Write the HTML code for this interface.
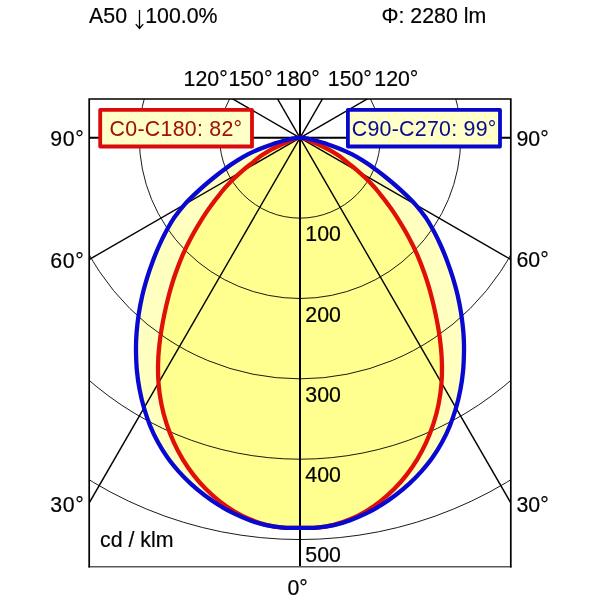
<!DOCTYPE html>
<html><head><meta charset="utf-8"><title>Polar</title>
<style>
html,body{margin:0;padding:0;background:#fff;}
svg{display:block}
text{font-family:"Liberation Sans",sans-serif;font-size:21.33px}
</style></head><body>
<svg width="600" height="600" viewBox="0 0 600 600">
<rect width="600" height="600" fill="#fff"/>
<defs><clipPath id="c"><rect x="89.2" y="99.0" width="421.6" height="467.6"/></clipPath></defs>
<g clip-path="url(#c)">
<path d="M300.0 137.8C299.5 137.8 297.9 137.8 297.0 137.9C296.1 138.0 295.3 138.1 294.3 138.3C293.3 138.5 292.5 138.6 290.9 139.0C289.3 139.4 287.3 139.8 284.6 140.5C282.0 141.2 278.8 142.1 275.1 143.3C271.4 144.6 266.7 146.1 262.2 147.9C257.8 149.7 252.6 151.9 248.3 154.1C244.0 156.3 240.5 158.4 236.7 160.9C232.8 163.3 229.2 165.8 225.3 168.8C221.3 171.7 217.1 174.9 212.7 178.5C208.3 182.1 203.5 186.1 198.9 190.4C194.2 194.7 188.9 199.7 184.7 204.4C180.6 209.0 177.1 213.6 173.9 218.1C170.8 222.7 168.4 227.1 165.9 231.7C163.4 236.3 161.2 241.0 159.0 246.0C156.8 250.9 154.7 256.1 152.7 261.4C150.7 266.7 148.8 272.2 147.1 277.9C145.4 283.6 143.7 289.5 142.3 295.5C140.9 301.5 139.8 307.5 138.8 313.7C137.9 319.9 137.1 326.2 136.6 332.5C136.1 338.8 135.9 345.2 136.0 351.5C136.1 357.9 136.3 364.3 136.9 370.7C137.5 377.0 138.4 383.3 139.6 389.6C140.8 395.8 142.2 402.0 144.0 408.0C145.8 414.0 147.8 420.0 150.1 425.7C152.4 431.4 155.1 437.0 158.0 442.3C160.9 447.6 164.1 452.8 167.5 457.6C170.9 462.5 174.7 467.0 178.6 471.4C182.5 475.8 186.6 479.9 190.9 483.8C195.2 487.7 199.7 491.5 204.3 495.0C208.9 498.5 213.7 501.9 218.6 505.0C223.5 508.1 228.6 510.9 233.8 513.4C238.9 515.9 244.3 518.2 249.7 520.2C255.0 522.2 260.6 523.9 266.1 525.1C271.7 526.4 277.3 527.2 283.0 527.6C288.6 528.1 294.3 527.8 300.0 527.8C305.7 527.8 311.4 528.1 317.0 527.6C322.7 527.2 328.3 526.4 333.9 525.1C339.4 523.9 345.0 522.2 350.3 520.2C355.7 518.2 361.1 515.9 366.2 513.4C371.4 510.9 376.5 508.1 381.4 505.0C386.3 501.9 391.1 498.5 395.7 495.0C400.3 491.5 404.8 487.7 409.1 483.8C413.4 479.9 417.5 475.8 421.4 471.4C425.3 467.0 429.1 462.5 432.5 457.6C435.9 452.8 439.1 447.6 442.0 442.3C444.9 437.0 447.6 431.4 449.9 425.7C452.2 420.0 454.2 414.0 456.0 408.0C457.8 402.0 459.2 395.8 460.4 389.6C461.6 383.3 462.5 377.0 463.1 370.7C463.7 364.3 463.9 357.9 464.0 351.5C464.1 345.2 463.9 338.8 463.4 332.5C462.9 326.2 462.1 319.9 461.2 313.7C460.2 307.5 459.1 301.5 457.7 295.5C456.3 289.5 454.6 283.6 452.9 277.9C451.2 272.2 449.3 266.7 447.3 261.4C445.3 256.1 443.2 250.9 441.0 246.0C438.8 241.0 436.6 236.3 434.1 231.7C431.6 227.1 429.2 222.7 426.1 218.1C422.9 213.6 419.4 209.0 415.3 204.4C411.1 199.7 405.8 194.7 401.1 190.4C396.5 186.1 391.7 182.1 387.3 178.5C382.9 174.9 378.7 171.7 374.7 168.8C370.8 165.8 367.2 163.3 363.3 160.9C359.5 158.4 356.0 156.3 351.7 154.1C347.4 151.9 342.2 149.7 337.8 147.9C333.3 146.1 328.6 144.6 324.9 143.3C321.2 142.1 318.0 141.2 315.4 140.5C312.7 139.8 310.7 139.4 309.1 139.0C307.5 138.6 306.7 138.5 305.7 138.3C304.7 138.1 303.9 138.0 303.0 137.9C302.1 137.8 300.5 137.8 300.0 137.8Z" fill="#ffff00" fill-opacity="0.25"/>
<path d="M300.0 137.8C299.9 137.8 299.5 137.8 299.3 137.8C299.1 137.9 298.8 137.9 298.5 137.9C298.2 138.0 297.8 138.1 297.3 138.2C296.9 138.3 296.4 138.4 295.9 138.5C295.3 138.7 294.7 138.9 294.0 139.1C293.3 139.4 292.6 139.7 291.7 140.0C290.8 140.4 290.4 140.6 288.7 141.3C287.1 142.1 285.1 142.9 282.0 144.4C278.8 145.9 273.3 148.4 269.8 150.3C266.2 152.3 263.5 154.1 260.7 156.1C257.9 158.1 256.2 159.7 253.0 162.3C249.7 164.9 245.0 168.4 241.2 171.8C237.4 175.1 233.6 178.7 230.1 182.3C226.6 186.0 223.3 189.7 220.1 193.8C216.8 197.8 213.6 202.0 210.4 206.6C207.1 211.1 203.9 216.0 200.7 221.1C197.5 226.3 194.2 231.8 191.2 237.5C188.1 243.2 185.2 249.2 182.5 255.3C179.9 261.3 177.6 267.4 175.4 273.8C173.1 280.2 171.2 286.7 169.3 293.5C167.5 300.3 165.8 307.3 164.3 314.6C162.8 321.9 161.3 329.7 160.3 337.3C159.3 345.0 158.4 352.9 158.2 360.5C157.9 368.0 158.0 375.6 158.5 382.9C159.0 390.2 160.0 397.2 161.4 404.1C162.7 410.9 164.5 417.5 166.6 423.9C168.7 430.3 171.1 436.5 173.8 442.4C176.5 448.3 179.6 454.1 182.9 459.6C186.2 465.0 189.8 470.2 193.6 475.1C197.5 480.1 201.6 484.8 205.9 489.1C210.2 493.4 214.7 497.5 219.4 501.2C224.2 504.9 229.1 508.3 234.1 511.3C239.2 514.4 244.4 517.1 249.8 519.3C255.1 521.6 260.6 523.4 266.1 524.8C271.7 526.2 277.3 527.2 283.0 527.7C288.6 528.2 294.3 527.8 300.0 527.8C305.7 527.8 311.4 528.2 317.0 527.7C322.7 527.2 328.3 526.2 333.9 524.8C339.4 523.4 344.9 521.6 350.2 519.3C355.6 517.1 360.8 514.4 365.9 511.3C370.9 508.3 375.8 504.9 380.6 501.2C385.3 497.5 389.8 493.4 394.1 489.1C398.4 484.8 402.5 480.1 406.4 475.1C410.2 470.2 413.8 465.0 417.1 459.6C420.4 454.1 423.5 448.3 426.2 442.4C428.9 436.5 431.3 430.3 433.4 423.9C435.5 417.5 437.3 410.9 438.6 404.1C440.0 397.2 441.0 390.2 441.5 382.9C442.0 375.6 442.1 368.0 441.8 360.5C441.6 352.9 440.7 345.0 439.7 337.3C438.7 329.7 437.2 321.9 435.7 314.6C434.2 307.3 432.5 300.3 430.7 293.5C428.8 286.7 426.9 280.2 424.6 273.8C422.4 267.4 420.1 261.3 417.5 255.3C414.8 249.2 411.9 243.2 408.8 237.5C405.8 231.8 402.5 226.3 399.3 221.1C396.1 216.0 392.9 211.1 389.6 206.6C386.4 202.0 383.2 197.8 379.9 193.8C376.7 189.7 373.4 186.0 369.9 182.3C366.4 178.7 362.6 175.1 358.8 171.8C355.0 168.4 350.3 164.9 347.0 162.3C343.8 159.7 342.1 158.1 339.3 156.1C336.5 154.1 333.8 152.3 330.2 150.3C326.7 148.4 321.2 145.9 318.0 144.4C314.9 142.9 312.9 142.1 311.3 141.3C309.6 140.6 309.2 140.4 308.3 140.0C307.4 139.7 306.7 139.4 306.0 139.1C305.3 138.9 304.7 138.7 304.1 138.5C303.6 138.4 303.1 138.3 302.7 138.2C302.2 138.1 301.8 138.0 301.5 137.9C301.2 137.9 300.9 137.9 300.7 137.8C300.5 137.8 300.1 137.8 300.0 137.8Z" fill="#ffff00" fill-opacity="0.25"/>
<g fill="none" stroke="#000" stroke-width="0.9"><circle cx="300.0" cy="137.8" r="80.35"/><circle cx="300.0" cy="137.8" r="160.70"/><circle cx="300.0" cy="137.8" r="241.05"/><circle cx="300.0" cy="137.8" r="321.40"/><circle cx="300.0" cy="137.8" r="401.75"/></g>
<g stroke="#000" stroke-width="1.4"><line x1="300.0" y1="137.8" x2="-50.0" y2="744.0"/><line x1="300.0" y1="137.8" x2="650.0" y2="744.0"/><line x1="300.0" y1="137.8" x2="-306.2" y2="487.8"/><line x1="300.0" y1="137.8" x2="906.2" y2="487.8"/><line x1="300.0" y1="137.8" x2="-306.2" y2="-212.2"/><line x1="300.0" y1="137.8" x2="906.2" y2="-212.2"/><line x1="300.0" y1="137.8" x2="-50.0" y2="-468.4"/><line x1="300.0" y1="137.8" x2="650.0" y2="-468.4"/></g>
<line x1="300.0" y1="99.0" x2="300.0" y2="566.6" stroke="#000" stroke-width="2"/>
<line x1="89.2" y1="137.8" x2="510.8" y2="137.8" stroke="#000" stroke-width="2"/>
<path d="M300.0 137.8C299.9 137.8 299.5 137.8 299.3 137.8C299.1 137.9 298.8 137.9 298.5 137.9C298.2 138.0 297.8 138.1 297.3 138.2C296.9 138.3 296.4 138.4 295.9 138.5C295.3 138.7 294.7 138.9 294.0 139.1C293.3 139.4 292.6 139.7 291.7 140.0C290.8 140.4 290.4 140.6 288.7 141.3C287.1 142.1 285.1 142.9 282.0 144.4C278.8 145.9 273.3 148.4 269.8 150.3C266.2 152.3 263.5 154.1 260.7 156.1C257.9 158.1 256.2 159.7 253.0 162.3C249.7 164.9 245.0 168.4 241.2 171.8C237.4 175.1 233.6 178.7 230.1 182.3C226.6 186.0 223.3 189.7 220.1 193.8C216.8 197.8 213.6 202.0 210.4 206.6C207.1 211.1 203.9 216.0 200.7 221.1C197.5 226.3 194.2 231.8 191.2 237.5C188.1 243.2 185.2 249.2 182.5 255.3C179.9 261.3 177.6 267.4 175.4 273.8C173.1 280.2 171.2 286.7 169.3 293.5C167.5 300.3 165.8 307.3 164.3 314.6C162.8 321.9 161.3 329.7 160.3 337.3C159.3 345.0 158.4 352.9 158.2 360.5C157.9 368.0 158.0 375.6 158.5 382.9C159.0 390.2 160.0 397.2 161.4 404.1C162.7 410.9 164.5 417.5 166.6 423.9C168.7 430.3 171.1 436.5 173.8 442.4C176.5 448.3 179.6 454.1 182.9 459.6C186.2 465.0 189.8 470.2 193.6 475.1C197.5 480.1 201.6 484.8 205.9 489.1C210.2 493.4 214.7 497.5 219.4 501.2C224.2 504.9 229.1 508.3 234.1 511.3C239.2 514.4 244.4 517.1 249.8 519.3C255.1 521.6 260.6 523.4 266.1 524.8C271.7 526.2 277.3 527.2 283.0 527.7C288.6 528.2 294.3 527.8 300.0 527.8C305.7 527.8 311.4 528.2 317.0 527.7C322.7 527.2 328.3 526.2 333.9 524.8C339.4 523.4 344.9 521.6 350.2 519.3C355.6 517.1 360.8 514.4 365.9 511.3C370.9 508.3 375.8 504.9 380.6 501.2C385.3 497.5 389.8 493.4 394.1 489.1C398.4 484.8 402.5 480.1 406.4 475.1C410.2 470.2 413.8 465.0 417.1 459.6C420.4 454.1 423.5 448.3 426.2 442.4C428.9 436.5 431.3 430.3 433.4 423.9C435.5 417.5 437.3 410.9 438.6 404.1C440.0 397.2 441.0 390.2 441.5 382.9C442.0 375.6 442.1 368.0 441.8 360.5C441.6 352.9 440.7 345.0 439.7 337.3C438.7 329.7 437.2 321.9 435.7 314.6C434.2 307.3 432.5 300.3 430.7 293.5C428.8 286.7 426.9 280.2 424.6 273.8C422.4 267.4 420.1 261.3 417.5 255.3C414.8 249.2 411.9 243.2 408.8 237.5C405.8 231.8 402.5 226.3 399.3 221.1C396.1 216.0 392.9 211.1 389.6 206.6C386.4 202.0 383.2 197.8 379.9 193.8C376.7 189.7 373.4 186.0 369.9 182.3C366.4 178.7 362.6 175.1 358.8 171.8C355.0 168.4 350.3 164.9 347.0 162.3C343.8 159.7 342.1 158.1 339.3 156.1C336.5 154.1 333.8 152.3 330.2 150.3C326.7 148.4 321.2 145.9 318.0 144.4C314.9 142.9 312.9 142.1 311.3 141.3C309.6 140.6 309.2 140.4 308.3 140.0C307.4 139.7 306.7 139.4 306.0 139.1C305.3 138.9 304.7 138.7 304.1 138.5C303.6 138.4 303.1 138.3 302.7 138.2C302.2 138.1 301.8 138.0 301.5 137.9C301.2 137.9 300.9 137.9 300.7 137.8C300.5 137.8 300.1 137.8 300.0 137.8Z" fill="none" stroke="#e01008" stroke-width="4.3" stroke-linejoin="round"/>
<path d="M300.0 137.8C299.5 137.8 297.9 137.8 297.0 137.9C296.1 138.0 295.3 138.1 294.3 138.3C293.3 138.5 292.5 138.6 290.9 139.0C289.3 139.4 287.3 139.8 284.6 140.5C282.0 141.2 278.8 142.1 275.1 143.3C271.4 144.6 266.7 146.1 262.2 147.9C257.8 149.7 252.6 151.9 248.3 154.1C244.0 156.3 240.5 158.4 236.7 160.9C232.8 163.3 229.2 165.8 225.3 168.8C221.3 171.7 217.1 174.9 212.7 178.5C208.3 182.1 203.5 186.1 198.9 190.4C194.2 194.7 188.9 199.7 184.7 204.4C180.6 209.0 177.1 213.6 173.9 218.1C170.8 222.7 168.4 227.1 165.9 231.7C163.4 236.3 161.2 241.0 159.0 246.0C156.8 250.9 154.7 256.1 152.7 261.4C150.7 266.7 148.8 272.2 147.1 277.9C145.4 283.6 143.7 289.5 142.3 295.5C140.9 301.5 139.8 307.5 138.8 313.7C137.9 319.9 137.1 326.2 136.6 332.5C136.1 338.8 135.9 345.2 136.0 351.5C136.1 357.9 136.3 364.3 136.9 370.7C137.5 377.0 138.4 383.3 139.6 389.6C140.8 395.8 142.2 402.0 144.0 408.0C145.8 414.0 147.8 420.0 150.1 425.7C152.4 431.4 155.1 437.0 158.0 442.3C160.9 447.6 164.1 452.8 167.5 457.6C170.9 462.5 174.7 467.0 178.6 471.4C182.5 475.8 186.6 479.9 190.9 483.8C195.2 487.7 199.7 491.5 204.3 495.0C208.9 498.5 213.7 501.9 218.6 505.0C223.5 508.1 228.6 510.9 233.8 513.4C238.9 515.9 244.3 518.2 249.7 520.2C255.0 522.2 260.6 523.9 266.1 525.1C271.7 526.4 277.3 527.2 283.0 527.6C288.6 528.1 294.3 527.8 300.0 527.8C305.7 527.8 311.4 528.1 317.0 527.6C322.7 527.2 328.3 526.4 333.9 525.1C339.4 523.9 345.0 522.2 350.3 520.2C355.7 518.2 361.1 515.9 366.2 513.4C371.4 510.9 376.5 508.1 381.4 505.0C386.3 501.9 391.1 498.5 395.7 495.0C400.3 491.5 404.8 487.7 409.1 483.8C413.4 479.9 417.5 475.8 421.4 471.4C425.3 467.0 429.1 462.5 432.5 457.6C435.9 452.8 439.1 447.6 442.0 442.3C444.9 437.0 447.6 431.4 449.9 425.7C452.2 420.0 454.2 414.0 456.0 408.0C457.8 402.0 459.2 395.8 460.4 389.6C461.6 383.3 462.5 377.0 463.1 370.7C463.7 364.3 463.9 357.9 464.0 351.5C464.1 345.2 463.9 338.8 463.4 332.5C462.9 326.2 462.1 319.9 461.2 313.7C460.2 307.5 459.1 301.5 457.7 295.5C456.3 289.5 454.6 283.6 452.9 277.9C451.2 272.2 449.3 266.7 447.3 261.4C445.3 256.1 443.2 250.9 441.0 246.0C438.8 241.0 436.6 236.3 434.1 231.7C431.6 227.1 429.2 222.7 426.1 218.1C422.9 213.6 419.4 209.0 415.3 204.4C411.1 199.7 405.8 194.7 401.1 190.4C396.5 186.1 391.7 182.1 387.3 178.5C382.9 174.9 378.7 171.7 374.7 168.8C370.8 165.8 367.2 163.3 363.3 160.9C359.5 158.4 356.0 156.3 351.7 154.1C347.4 151.9 342.2 149.7 337.8 147.9C333.3 146.1 328.6 144.6 324.9 143.3C321.2 142.1 318.0 141.2 315.4 140.5C312.7 139.8 310.7 139.4 309.1 139.0C307.5 138.6 306.7 138.5 305.7 138.3C304.7 138.1 303.9 138.0 303.0 137.9C302.1 137.8 300.5 137.8 300.0 137.8Z" fill="none" stroke="#0808d0" stroke-width="4.3" stroke-linejoin="round"/>
</g>
<line x1="88.4" y1="566.7" x2="511.6" y2="566.7" stroke="#5a5a5a" stroke-width="1.5"/>
<path d="M89.2 567.4V99.0H510.8V567.4" fill="none" stroke="#000" stroke-width="1.7"/>
<rect x="100.2" y="109.9" width="151.8" height="36.6" fill="#ffffc8" stroke="#dc0a0a" stroke-width="3.8" stroke-linejoin="round"/>
<rect x="347.9" y="109.9" width="152.1" height="36.6" fill="#ffffc8" stroke="#0808cc" stroke-width="3.8" stroke-linejoin="round"/>
<g opacity="0.999">
<text transform="translate(176 135.6) scale(1 1.04)" text-anchor="middle" letter-spacing="0.28" fill="#a01208" stroke="#a01208" stroke-width="0.05">C0-C180: 82°</text>
<text transform="translate(424.2 135.6) scale(1 1.04)" text-anchor="middle" letter-spacing="0.28" fill="#0c0c90" stroke="#0c0c90" stroke-width="0.05">C90-C270: 99°</text>
<text transform="translate(305.3 241.3) scale(1 1.04)" fill="#000" stroke="#000" stroke-width="0.2">100</text>
<text transform="translate(305.3 321.6) scale(1 1.04)" fill="#000" stroke="#000" stroke-width="0.2">200</text>
<text transform="translate(305.3 402) scale(1 1.04)" fill="#000" stroke="#000" stroke-width="0.2">300</text>
<text transform="translate(305.3 482.3) scale(1 1.04)" fill="#000" stroke="#000" stroke-width="0.2">400</text>
<text transform="translate(305.3 562.2) scale(1 1.04)" fill="#000" stroke="#000" stroke-width="0.2">500</text>
<text transform="translate(100 546.7) scale(1 1.04)" fill="#000" stroke="#000" stroke-width="0.2">cd / klm</text>
<text transform="translate(84.3 145.6) scale(1 1.04)" text-anchor="end" letter-spacing="0.6" fill="#000" stroke="#000" stroke-width="0.2">90°</text>
<text transform="translate(84.3 267.8) scale(1 1.04)" text-anchor="end" letter-spacing="0.6" fill="#000" stroke="#000" stroke-width="0.2">60°</text>
<text transform="translate(84.3 511.5) scale(1 1.04)" text-anchor="end" letter-spacing="0.6" fill="#000" stroke="#000" stroke-width="0.2">30°</text>
<text transform="translate(516.5 145.6) scale(1 1.04)" fill="#000" stroke="#000" stroke-width="0.2">90°</text>
<text transform="translate(516.5 267.3) scale(1 1.04)" fill="#000" stroke="#000" stroke-width="0.2">60°</text>
<text transform="translate(516.5 511.5) scale(1 1.04)" fill="#000" stroke="#000" stroke-width="0.2">30°</text>
<text transform="translate(183.6 86.4) scale(1 1.04)" fill="#000" stroke="#000" stroke-width="0.2">120°</text>
<text transform="translate(228.4 86.4) scale(1 1.04)" fill="#000" stroke="#000" stroke-width="0.2">150°</text>
<text transform="translate(275.8 86.4) scale(1 1.04)" fill="#000" stroke="#000" stroke-width="0.2">180°</text>
<text transform="translate(327.8 86.4) scale(1 1.04)" fill="#000" stroke="#000" stroke-width="0.2">150°</text>
<text transform="translate(374.3 86.4) scale(1 1.04)" fill="#000" stroke="#000" stroke-width="0.2">120°</text>
<text transform="translate(297.6 594.5) scale(1 1.04)" text-anchor="middle" fill="#000" stroke="#000" stroke-width="0.2">0°</text>
<text transform="translate(89.1 23.4) scale(1 1.04)" fill="#000" stroke="#000" stroke-width="0.2">A50</text>
<text transform="translate(145.2 23.4) scale(1 1.04)" fill="#000" stroke="#000" stroke-width="0.2">100.0%</text>
<text transform="translate(381.5 23.4) scale(1 1.04)" fill="#000" stroke="#000" stroke-width="0.2">Φ: 2280 lm</text>
</g>
<path d="M139.5 10V28.2M135.8 24.1L139.5 28.4L143.2 24.1" fill="none" stroke="#000" stroke-width="1.3" stroke-linejoin="miter"/>
</svg>
</body></html>
